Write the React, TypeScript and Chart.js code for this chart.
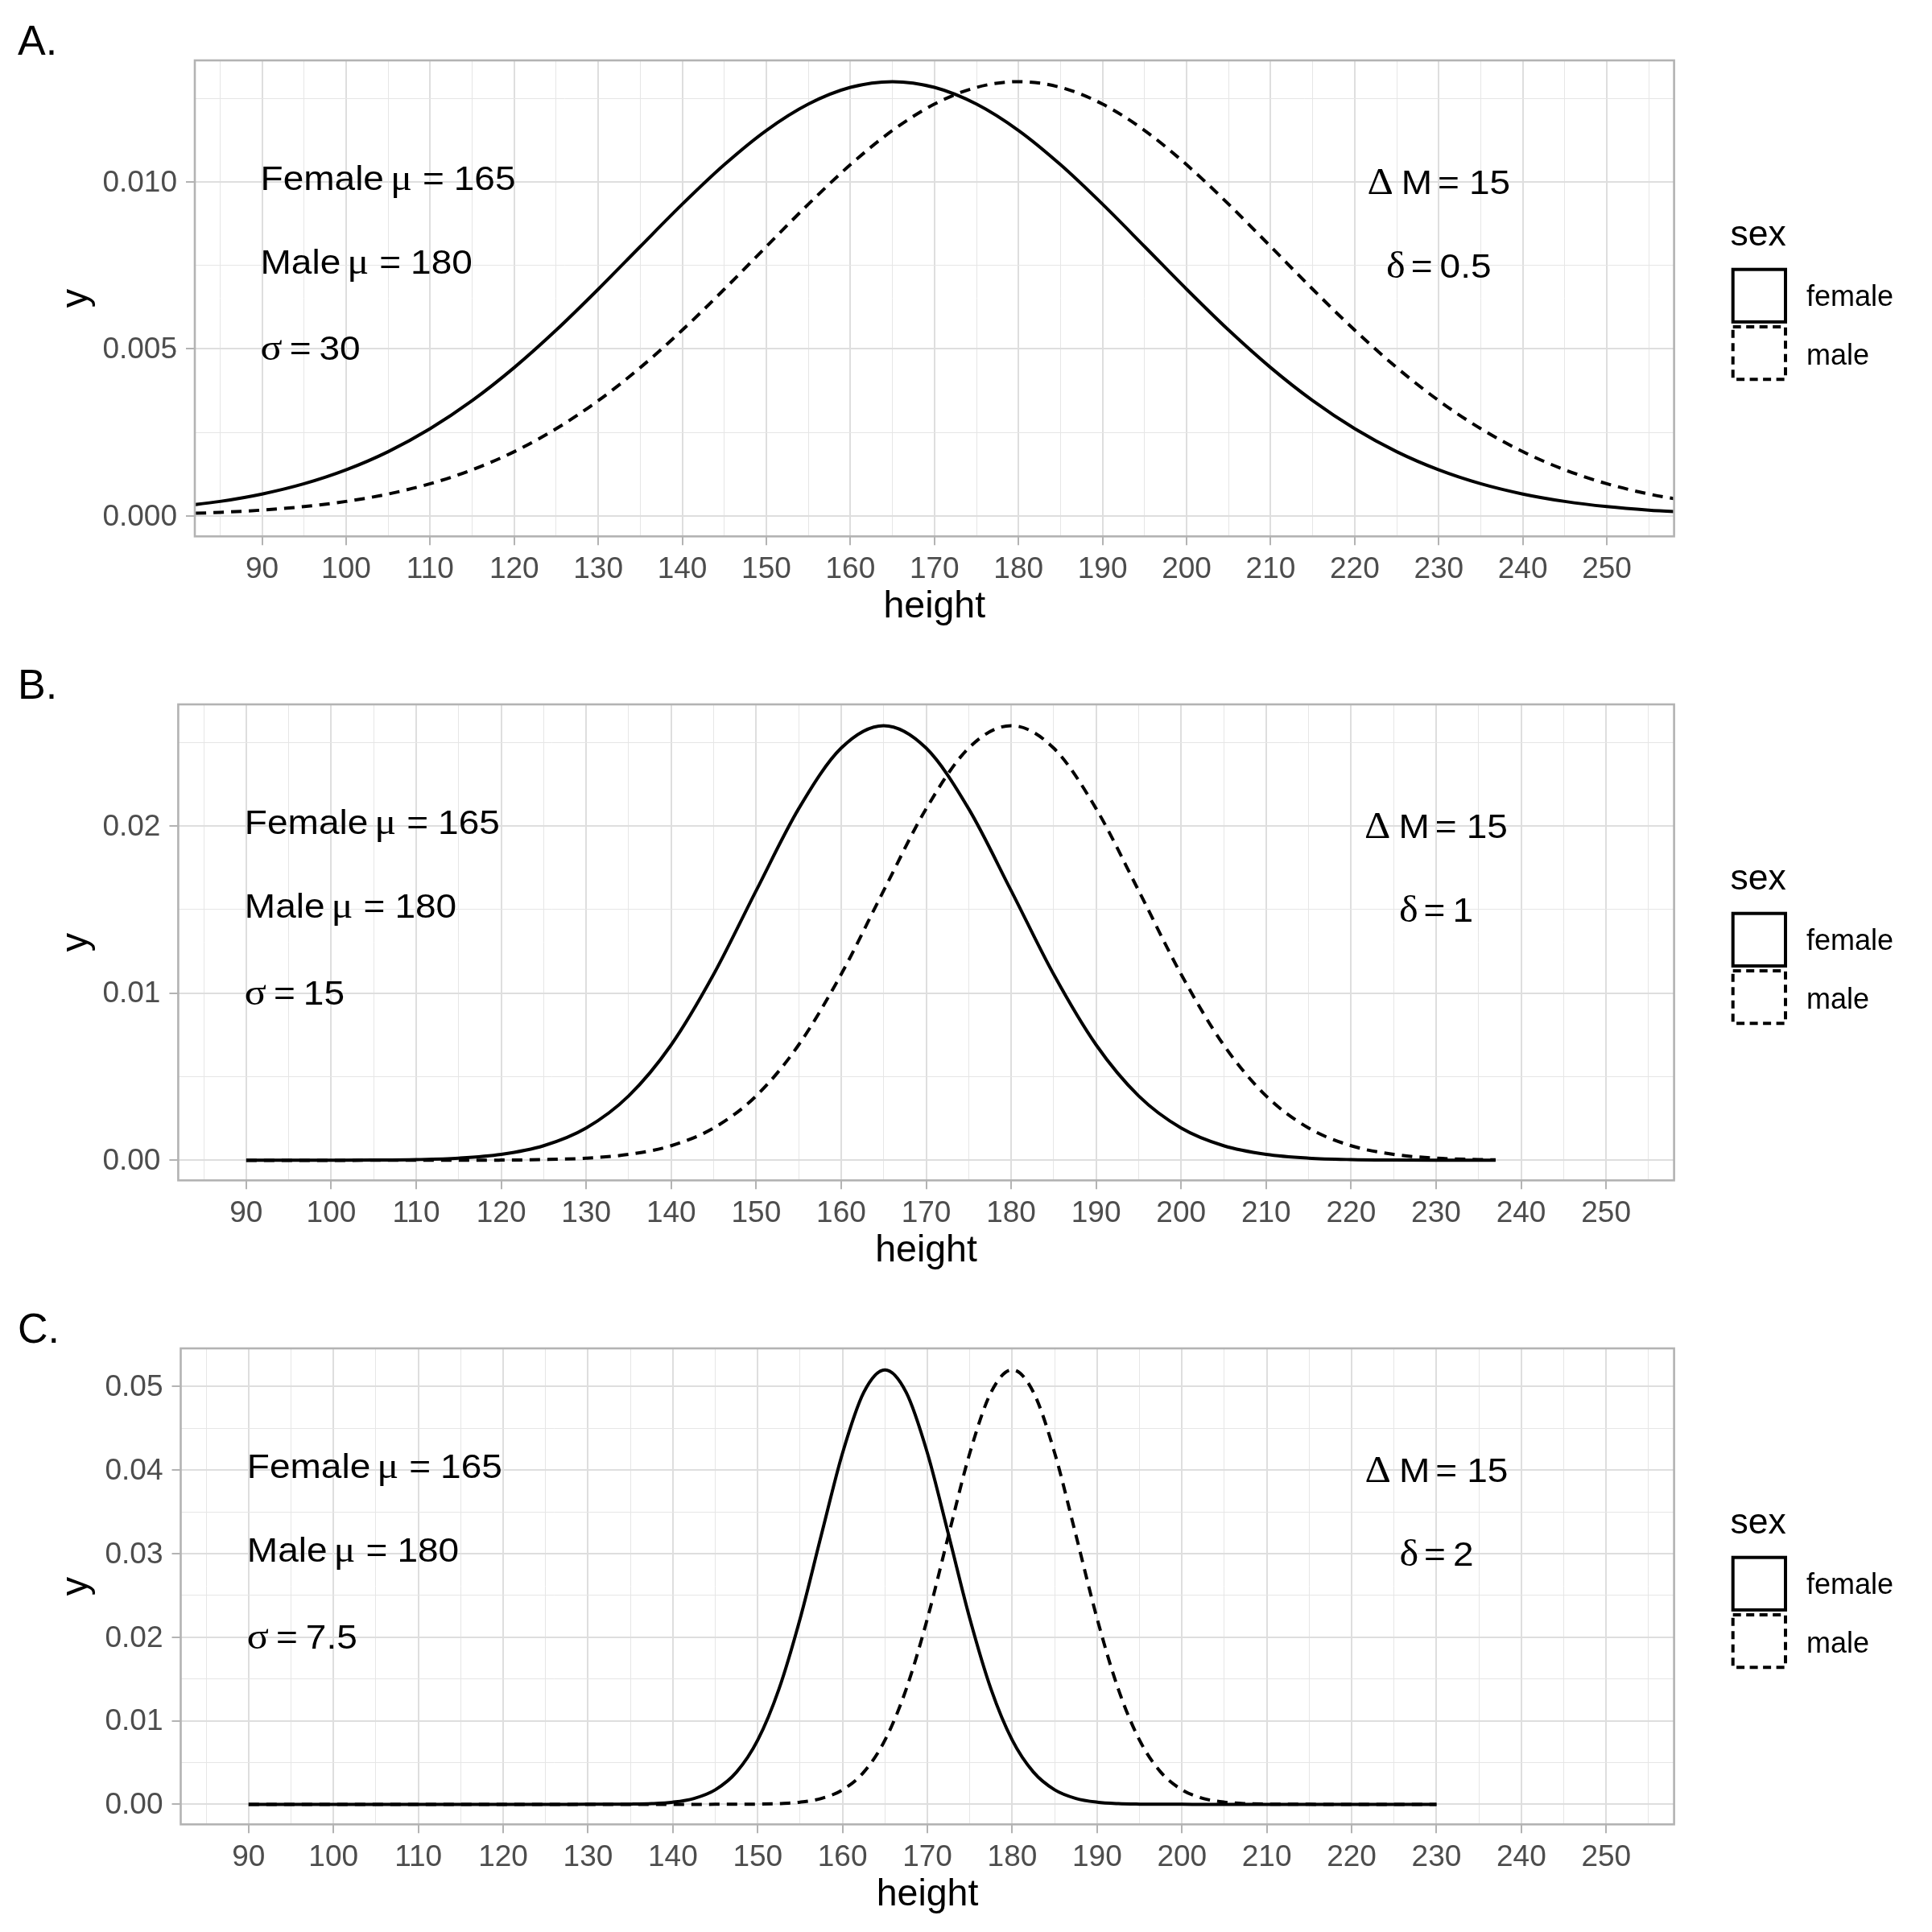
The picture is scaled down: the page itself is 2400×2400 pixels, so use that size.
import React, { useEffect, useRef } from "react";
import { Chart, registerables } from "chart.js";

Chart.register(...registerables);

// ---------------- data ----------------
// Panel A (sigma = 30)
const heightA = [80, 85, 90, 95, 100, 105, 110, 115, 120, 125, 130, 135, 140, 145, 150, 155, 160, 165, 170, 175, 180, 185, 190, 195, 200, 205, 210, 215, 220, 225, 230, 235, 240, 245, 250, 255, 260];
const femaleA = [0.000281, 0.000436, 0.000658, 0.000966, 0.001382, 0.001925, 0.002613, 0.003452, 0.004441, 0.005563, 0.006787, 0.008065, 0.009331, 0.010514, 0.011538, 0.012328, 0.012828, 0.013, 0.012828, 0.012328, 0.011538, 0.010514, 0.009331, 0.008065, 0.006787, 0.005563, 0.004441, 0.003452, 0.002613, 0.001925, 0.001382, 0.000966, 0.000658, 0.000436, 0.000281, 0.000177, 0.000108];
const maleA = [0.0000645, 0.000108, 0.000177, 0.000281, 0.000436, 0.000658, 0.000966, 0.001382, 0.001925, 0.002613, 0.003452, 0.004441, 0.005563, 0.006787, 0.008065, 0.009331, 0.010514, 0.011538, 0.012328, 0.012828, 0.013, 0.012828, 0.012328, 0.011538, 0.010514, 0.009331, 0.008065, 0.006787, 0.005563, 0.004441, 0.003452, 0.002613, 0.001925, 0.001382, 0.000966, 0.000658, 0.000436];

// Panel B (sigma = 15)
const heightB = [90, 95, 100, 105, 110, 115, 120, 125, 130, 135, 140, 145, 150, 155, 160, 165, 170, 175, 180, 185, 190, 195, 200, 205, 210, 215, 220, 225, 230, 235, 237];
const femaleB = [0.0000002, 0.0000008, 0.0000033, 0.0000125, 0.0000424, 0.000129, 0.000354, 0.000872, 0.001932, 0.003851, 0.006903, 0.011125, 0.01613, 0.021029, 0.024656, 0.026, 0.024656, 0.021029, 0.01613, 0.011125, 0.006903, 0.003851, 0.001932, 0.000872, 0.000354, 0.000129, 0.0000424, 0.0000125, 0.0000033, 0.0000008, 0.0000004];
const maleB = [0, 0, 0, 0.0000002, 0.0000008, 0.0000033, 0.0000125, 0.0000424, 0.000129, 0.000354, 0.000872, 0.001932, 0.003851, 0.006903, 0.011125, 0.01613, 0.021029, 0.024656, 0.026, 0.024656, 0.021029, 0.01613, 0.011125, 0.006903, 0.003851, 0.001932, 0.000872, 0.000354, 0.000129, 0.0000424, 0.000028];

// Panel C (sigma = 7.5)
const heightC = [90, 100, 110, 120, 125, 130, 132.5, 135, 137.5, 140, 142.5, 145, 147.5, 150, 152.5, 155, 157.5, 160, 162.5, 165, 167.5, 170, 172.5, 175, 177.5, 180, 182.5, 185, 187.5, 190, 192.5, 195, 197.5, 200, 202.5, 205, 207.5, 210, 212.5, 215, 220, 225, 230];
const femaleC = [0, 0, 0, 0, 0, 0.0000016, 0.0000066, 0.0000248, 0.0000841, 0.000257, 0.000704, 0.001736, 0.003852, 0.007681, 0.013781, 0.022227, 0.032239, 0.042048, 0.04931, 0.052, 0.04931, 0.042048, 0.032239, 0.022227, 0.013781, 0.007681, 0.003852, 0.001736, 0.000704, 0.000257, 0.0000841, 0.0000248, 0.0000066, 0.0000016, 0, 0, 0, 0, 0, 0, 0, 0, 0];
const maleC = [0, 0, 0, 0, 0, 0, 0, 0, 0, 0, 0, 0.0000016, 0.0000066, 0.0000248, 0.0000841, 0.000257, 0.000704, 0.001736, 0.003852, 0.007681, 0.013781, 0.022227, 0.032239, 0.042048, 0.04931, 0.052, 0.04931, 0.042048, 0.032239, 0.022227, 0.013781, 0.007681, 0.003852, 0.001736, 0.000704, 0.000257, 0.0000841, 0.0000248, 0.0000066, 0.0000016, 0, 0, 0];

// ticks (major + minor grid positions)
const xTickValues = [85, 90, 95, 100, 105, 110, 115, 120, 125, 130, 135, 140, 145, 150, 155, 160, 165, 170, 175, 180, 185, 190, 195, 200, 205, 210, 215, 220, 225, 230, 235, 240, 245, 250, 255];
const yTicksA = [0, 0.0025, 0.005, 0.0075, 0.01, 0.0125];
const yTicksB = [0, 0.005, 0.01, 0.015, 0.02, 0.025];
const yTicksC = [0, 0.005, 0.01, 0.015, 0.02, 0.025, 0.03, 0.035, 0.04, 0.045, 0.05];

// labels
const panelTags = ["A.", "B.", "C."];
const seriesNames = ["female", "male"];
const legendTitle = "sex";
const femaleMu = "165";
const maleMu = "180";
const deltaM = "15";
const sigmaValues = ["30", "15", "7.5"];
const deltaValues = ["0.5", "1", "2"];
const annotYA = [0.01, 0.0075, 0.005];
const annotYB = [0.02, 0.015, 0.01];
const annotYC = [0.04, 0.03, 0.02];
const annotLeftX = 90;
const annotRightX = 230;

// ---------------- styling ----------------
const SANS = "'Liberation Sans', Arial, Helvetica, sans-serif";
const SERIF = "'Liberation Serif', 'Times New Roman', serif";
const ANNOT_SIZE = 43;
const ANNOT_GREEK = 47;
const STRETCH = 1.07;
const LINE_W = 4;

type Seg = { t: string; serif?: boolean; gap?: number };

interface Panel {
  tag: string;
  xs: number[];
  female: number[];
  male: number[];
  yMin: number;
  yMax: number;
  yTicks: number[];
  yMajorStep: number;
  yDigits: number;
  axisW: number;
  annotY: number[];
  sigma: string;
  delta: string;
}

const panels: Panel[] = [
  { tag: panelTags[0], xs: heightA, female: femaleA, male: maleA, yMin: -0.00061, yMax: 0.013636, yTicks: yTicksA, yMajorStep: 0.005, yDigits: 3, axisW: 242, annotY: annotYA, sigma: sigmaValues[0], delta: deltaValues[0] },
  { tag: panelTags[1], xs: heightB, female: femaleB, male: maleB, yMin: -0.0012, yMax: 0.02727, yTicks: yTicksB, yMajorStep: 0.01, yDigits: 2, axisW: 221.4, annotY: annotYB, sigma: sigmaValues[1], delta: deltaValues[1] },
  { tag: panelTags[2], xs: heightC, female: femaleC, male: maleC, yMin: -0.0024, yMax: 0.05457, yTicks: yTicksC, yMajorStep: 0.01, yDigits: 2, axisW: 224.5, annotY: annotYC, sigma: sigmaValues[2], delta: deltaValues[2] },
];

function segFont(s: Seg) {
  return s.serif ? `${ANNOT_GREEK}px ${SERIF}` : `${ANNOT_SIZE}px ${SANS}`;
}

function drawSegs(ctx: CanvasRenderingContext2D, segs: Seg[], x: number, baseline: number, align: "left" | "center") {
  const ws = segs.map((s) => {
    ctx.font = segFont(s);
    return ctx.measureText(s.t).width * STRETCH;
  });
  const total = ws.reduce((a, b) => a + b, 0) + segs.reduce((a, s) => a + (s.gap || 0), 0);
  let cx = align === "center" ? x - total / 2 : x;
  segs.forEach((s, i) => {
    cx += s.gap || 0;
    ctx.save();
    ctx.font = segFont(s);
    ctx.translate(cx, baseline);
    ctx.scale(STRETCH, 1);
    ctx.fillStyle = "#000000";
    ctx.textAlign = "left";
    ctx.textBaseline = "alphabetic";
    ctx.fillText(s.t, 0, 0);
    ctx.restore();
    cx += ws[i];
  });
}

function makeDecor(p: Panel) {
  return {
    id: "decor",
    afterDraw(chart: any) {
      const ctx: CanvasRenderingContext2D = chart.ctx;
      const { left, right, top, bottom } = chart.chartArea;
      const xs = chart.scales.x;
      const ys = chart.scales.y;
      ctx.save();
      // panel border
      ctx.strokeStyle = "#B3B3B3";
      ctx.lineWidth = 2.6;
      ctx.setLineDash([]);
      ctx.strokeRect(left, top, right - left, bottom - top);

      // annotations (left)
      const lx = xs.getPixelForValue(annotLeftX) - 2;
      drawSegs(ctx, [{ t: "Female" }, { t: "μ", serif: true, gap: 8 }, { t: "=", gap: 13 }, { t: femaleMu, gap: 12 }], lx, ys.getPixelForValue(p.annotY[0]) + 10, "left");
      drawSegs(ctx, [{ t: "Male" }, { t: "μ", serif: true, gap: 8 }, { t: "=", gap: 13 }, { t: maleMu, gap: 12 }], lx, ys.getPixelForValue(p.annotY[1]) + 10, "left");
      drawSegs(ctx, [{ t: "σ", serif: true }, { t: "=", gap: 9 }, { t: p.sigma, gap: 10 }], lx, ys.getPixelForValue(p.annotY[2]) + 14, "left");
      // annotations (right)
      const rx = xs.getPixelForValue(annotRightX);
      drawSegs(ctx, [{ t: "Δ", serif: true }, { t: "M", gap: 10 }, { t: "=", gap: 7 }, { t: deltaM, gap: 12 }], rx, ys.getPixelForValue(p.annotY[0]) + 15, "center");
      drawSegs(ctx, [{ t: "δ", serif: true }, { t: "=", gap: 7 }, { t: p.delta, gap: 9 }], rx, ys.getPixelForValue(p.annotY[1]) + 15, "center");

      // legend
      ctx.fillStyle = "#000000";
      ctx.textAlign = "left";
      ctx.textBaseline = "alphabetic";
      ctx.font = `44.5px ${SANS}`;
      ctx.fillText(legendTitle, 2149.5, 305);
      ctx.strokeStyle = "#000000";
      ctx.lineWidth = 4;
      ctx.setLineDash([]);
      ctx.strokeRect(2152.7, 334.7, 65.3, 65.2);
      ctx.setLineDash([10, 6.5]);
      ctx.strokeRect(2152.7, 406, 65.3, 65.3);
      ctx.setLineDash([]);
      ctx.font = `36px ${SANS}`;
      ctx.fillText(seriesNames[0], 2244, 380);
      ctx.fillText(seriesNames[1], 2244, 453.3);

      // panel tag
      ctx.font = `52px ${SANS}`;
      ctx.fillText(p.tag, 22, 68);
      ctx.restore();
    },
  };
}

function gridOpts(isMajor: (v: number) => boolean) {
  const maj = (c: any) => !!(c && c.tick && isMajor(c.tick.value));
  return {
    display: true,
    drawOnChartArea: true,
    drawTicks: true,
    tickLength: 11,
    color: (c: any) => (maj(c) ? "#DEDEDE" : "#E6E6E6"),
    lineWidth: (c: any) => (maj(c) ? 2 : 1),
    tickColor: (c: any) => (maj(c) ? "#B3B3B3" : "rgba(0,0,0,0)"),
    tickWidth: 2,
  };
}

function PanelChart({ p }: { p: Panel }) {
  const ref = useRef<HTMLCanvasElement | null>(null);
  useEffect(() => {
    if (!ref.current) return;
    const isMajorX = (v: number) => Math.abs(v % 10) < 1e-9;
    const isMajorY = (v: number) => {
      const r = v / p.yMajorStep;
      return Math.abs(r - Math.round(r)) < 1e-6;
    };
    const chart = new Chart(ref.current, {
      type: "line",
      data: {
        datasets: [
          {
            label: seriesNames[0],
            data: p.xs.map((x, i) => ({ x, y: p.female[i] })),
            borderColor: "#000000",
            borderWidth: LINE_W,
            pointRadius: 0,
            fill: false,
            cubicInterpolationMode: "monotone",
            borderCapStyle: "butt",
            clip: 0,
          } as any,
          {
            label: seriesNames[1],
            data: p.xs.map((x, i) => ({ x, y: p.male[i] })),
            borderColor: "#000000",
            borderWidth: LINE_W,
            borderDash: [13, 9],
            pointRadius: 0,
            fill: false,
            cubicInterpolationMode: "monotone",
            borderCapStyle: "butt",
            clip: 0,
          } as any,
        ],
      },
      options: {
        animation: false,
        responsive: false,
        devicePixelRatio: 1,
        events: [],
        layout: { padding: { left: 0, right: 320.4, top: 75, bottom: 17.5 } },
        plugins: { legend: { display: false }, tooltip: { enabled: false }, title: { display: false } },
        scales: {
          x: {
            type: "linear",
            min: 82,
            max: 258,
            afterBuildTicks: (s: any) => {
              s.ticks = xTickValues.map((v) => ({ value: v }));
            },
            afterFit: (s: any) => {
              s.height = 116.2;
            },
            ticks: {
              autoSkip: false,
              maxRotation: 0,
              minRotation: 0,
              padding: 8.5,
              color: "#4D4D4D",
              font: { family: SANS, size: 37 },
              callback: (v: any) => (isMajorX(Number(v)) ? String(v) : ""),
            },
            grid: gridOpts(isMajorX) as any,
            border: { display: false },
            title: { display: true, text: "height", color: "#000000", font: { family: SANS, size: 46.5 }, padding: { top: 0, bottom: 0 } },
          },
          y: {
            type: "linear",
            min: p.yMin,
            max: p.yMax,
            afterBuildTicks: (s: any) => {
              s.ticks = p.yTicks.map((v) => ({ value: v }));
            },
            afterFit: (s: any) => {
              s.width = p.axisW;
            },
            ticks: {
              autoSkip: false,
              padding: 11,
              labelOffset: 1.5,
              color: "#4D4D4D",
              font: { family: SANS, size: 37 },
              callback: (v: any) => (isMajorY(Number(v)) ? Number(v).toFixed(p.yDigits) : ""),
            },
            grid: gridOpts(isMajorY) as any,
            border: { display: false },
            title: { display: true, text: "y", color: "#000000", font: { family: SANS, size: 46.5 }, padding: { top: 67, bottom: 0 } },
          },
        },
      } as any,
      plugins: [makeDecor(p)],
    });
    return () => chart.destroy();
  }, [p]);
  return <canvas ref={ref} width={2400} height={800} style={{ display: "block", width: 2400, height: 800 }} />;
}

export default function App() {
  return (
    <div style={{ position: "absolute", left: 0, top: 0, width: 2400, height: 2400, background: "#ffffff" }}>
      {panels.map((p) => (
        <PanelChart key={p.tag} p={p} />
      ))}
    </div>
  );
}
